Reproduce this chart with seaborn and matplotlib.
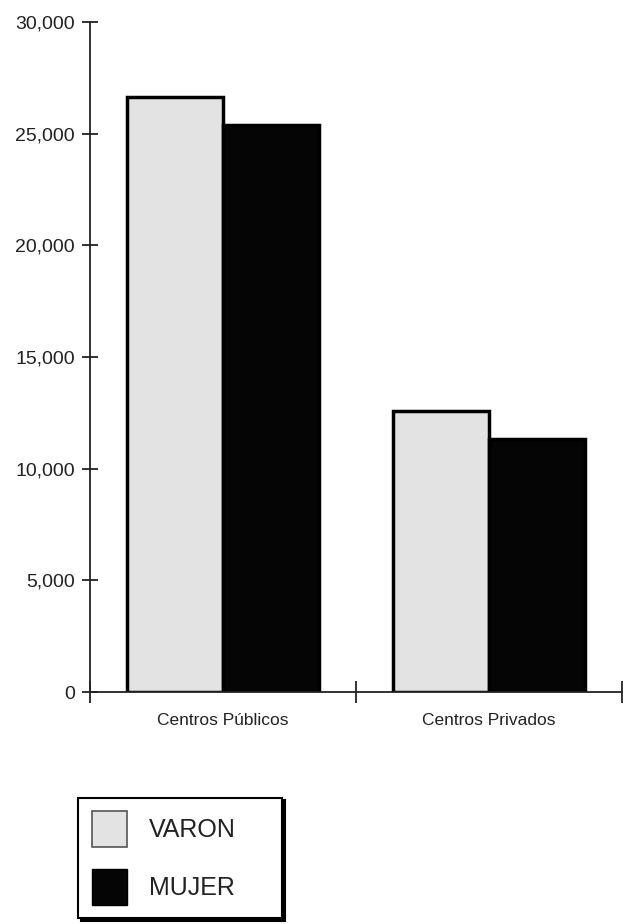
import pandas as pd
import matplotlib
matplotlib.use("Agg")
import matplotlib.pyplot as plt
from matplotlib.patches import Patch
from matplotlib.ticker import FuncFormatter
import seaborn as sns

# Data
centros = ["Centros Públicos", "Centros Privados"]
varon = [26650, 12600]
mujer = [25400, 11350]
sexos = ["VARON", "MUJER"]
y_ticks = [0, 5000, 10000, 15000, 20000, 25000, 30000]

df = pd.DataFrame({
    "centro": centros * 2,
    "sexo": ["VARON"] * len(centros) + ["MUJER"] * len(centros),
    "alumnos": varon + mujer,
})

sns.set_style("white")
plt.rcParams["font.family"] = ["Liberation Sans", "DejaVu Sans"]

colores = {"VARON": "#e3e3e3", "MUJER": "#050505"}

fig = plt.figure(figsize=(6.23, 9.24), dpi=100)
ax = fig.add_axes([0.1445, 0.251, 0.854, 0.725])

sns.barplot(
    data=df, x="centro", y="alumnos", hue="sexo",
    order=centros, hue_order=sexos, palette=colores,
    width=0.72, edgecolor="black", linewidth=2.5,
    legend=False, ax=ax,
)

ax.set_xlim(-0.5, 1.5)
ax.set_ylim(0, 30000)
ax.set_xlabel("")
ax.set_ylabel("")

sns.despine(ax=ax, top=True, right=True)
for s in ["left", "bottom"]:
    ax.spines[s].set_color("#222222")
    ax.spines[s].set_linewidth(1.3)

ax.set_yticks(y_ticks)
ax.yaxis.set_major_formatter(FuncFormatter(lambda v, p: f"{int(v):,}"))
ax.tick_params(axis="y", direction="inout", length=12, width=1.3,
               labelsize=14, colors="#222222", left=True, pad=5)

ax.set_xticks([0, 1])
ax.set_xticklabels(centros)
ax.set_xticks([-0.5, 0.5, 1.5], minor=True)
ax.tick_params(axis="x", which="major", length=0, labelsize=12.5,
               colors="#222222", pad=15)
ax.tick_params(axis="x", which="minor", direction="inout", length=16,
               width=1.3, color="#222222", bottom=True)

handles = [
    Patch(facecolor=colores["VARON"], edgecolor="#555555", linewidth=1.2),
    Patch(facecolor=colores["MUJER"], edgecolor="black"),
]
leg = fig.legend(
    handles, sexos, loc="lower left",
    bbox_to_anchor=(0.125, 0.006, 0.328, 0.133), mode="expand",
    frameon=True, fancybox=False, shadow={"color": "black", "alpha": 1},
    edgecolor="black", fontsize=18, handlelength=1.4, handleheight=1.8,
    labelspacing=0.9, handletextpad=0.9, borderpad=0.55, borderaxespad=0,
)
leg.get_frame().set_linewidth(1.5)
for t in leg.get_texts():
    t.set_color("#222222")

fig.savefig("out.png", dpi=100)
